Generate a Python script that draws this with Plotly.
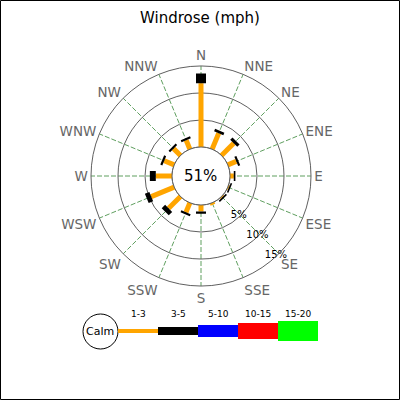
import plotly.graph_objects as go

# compass directions and the share (%) of time per speed bin
directions = ['N', 'NNE', 'NE', 'ENE', 'E', 'ESE', 'SE', 'SSE',
              'S', 'SSW', 'SW', 'WSW', 'W', 'WNW', 'NW', 'NNW']
angles = [i * 22.5 for i in range(16)]

pct_1_3 = [11.8, 3.2, 3.2, 1.7, 0.7, 0.2, 0.2, 0.4,
           1.2, 1.9, 3.1, 4.6, 3.0, 2.0, 1.8, 1.8]
pct_3_5 = [1.8, 0.5, 0.6, 0.4, 0.3, 0.3, 0.3, 0.0,
           0.4, 0.4, 0.9, 0.9, 1.1, 0.4, 0.4, 0.4]

calm_pct = 51

speed_bins = ['1-3', '3-5', '5-10', '10-15', '15-20']
bin_colors = ['#ffa500', '#000000', '#0000ff', '#ff0000', '#00ff00']

radial_ticks = [5, 10, 15]

W = 400.0
fig = go.Figure()


def segments(starts, lengths):
    r, th = [], []
    for a, s, l in zip(angles, starts, lengths):
        if l <= 0:
            continue
        r += [s, s + l, None]
        th += [a, a, None]
    return r, th


# calm circle outline (r=0 sits on the hole edge)
fig.add_trace(go.Scatterpolar(
    r=[0] * 73, theta=[i * 5 for i in range(73)], mode='lines',
    line=dict(color='#555555', width=1), hoverinfo='skip', showlegend=False))

r1, t1 = segments([0] * 16, pct_1_3)
fig.add_trace(go.Scatterpolar(r=r1, theta=t1, mode='lines',
                              line=dict(color=bin_colors[0], width=5),
                              name=speed_bins[0], showlegend=False))
r2, t2 = segments(pct_1_3, pct_3_5)
fig.add_trace(go.Scatterpolar(r=r2, theta=t2, mode='lines',
                              line=dict(color=bin_colors[1], width=10),
                              name=speed_bins[1], showlegend=False))

# ring labels sit right on the rings, a bit past SE
fig.add_trace(go.Scatterpolar(r=[v - 0.2 for v in radial_ticks],
                              theta=[136.5] * len(radial_ticks),
                              mode='text', text=[f'{v}%' for v in radial_ticks],
                              textposition='middle center', cliponaxis=False,
                              textfont=dict(size=10, color='black'),
                              hoverinfo='skip', showlegend=False))

fig.update_layout(
    width=400, height=400,
    margin=dict(l=0, r=0, t=0, b=0),
    paper_bgcolor='white',
    font=dict(family='DejaVu Sans'),
    title=dict(text='Windrose (mph)', x=0.5, xanchor='center',
               y=1 - 18 / W, yanchor='middle', yref='paper',
               font=dict(size=15, color='black')),
    polar=dict(
        domain=dict(x=[91 / W, 311 / W], y=[1 - 286 / W, 1 - 66 / W]),
        hole=29 / 110,
        bgcolor='white',
        radialaxis=dict(range=[0, 15], tickmode='array', tickvals=radial_ticks,
                        showticklabels=False, showline=False, ticks='',
                        gridcolor='#606060', gridwidth=1),
        angularaxis=dict(direction='clockwise', rotation=90,
                         tickmode='array', tickvals=angles, ticktext=directions,
                         ticks='', showline=True, linecolor='#606060',
                         gridcolor='#5f9f5f', griddash='5px,2px', gridwidth=1,
                         tickfont=dict(size=13.5, color='#666666')),
    ),
)

fig.add_annotation(text=f'{calm_pct}%', x=201 / W, y=1 - 176 / W, xref='paper',
                   yref='paper', xanchor='center', yanchor='middle',
                   showarrow=False, font=dict(size=15, color='black'))

# custom legend under the rose
shapes = [dict(type='rect', xref='paper', yref='paper', x0=0.5 / W, y0=0.5 / W,
               x1=1 - 0.5 / W, y1=1 - 0.5 / W, line=dict(color='black', width=1))]
shapes.append(dict(type='circle', xref='paper', yref='paper',
                   x0=83 / W, x1=118 / W, y0=1 - 349 / W, y1=1 - 314 / W,
                   line=dict(color='black', width=1)))
fig.add_annotation(text='Calm', x=100.5 / W, y=1 - 331 / W, xref='paper', yref='paper',
                   xanchor='center', yanchor='middle',
                   showarrow=False, font=dict(size=11, color='black'))
bar_heights = [4, 8, 12, 16, 20]
for i, (lab, col) in enumerate(zip(speed_bins, bin_colors)):
    x0 = 118 + 40 * i
    h = bar_heights[i]
    shapes.append(dict(type='rect', xref='paper', yref='paper',
                       x0=x0 / W, x1=(x0 + 40) / W,
                       y0=1 - (331 + h / 2) / W, y1=1 - (331 - h / 2) / W,
                       fillcolor=col, line=dict(width=0)))
    fig.add_annotation(text=lab, x=(x0 + 20) / W, y=1 - 314 / W, xref='paper',
                       yref='paper', xanchor='center', yanchor='middle',
                       showarrow=False, font=dict(size=9, color='black'))
fig.update_layout(shapes=shapes)

fig.write_html('out.html', config=dict(displayModeBar=False),
               post_script="document.body.style.margin='0';")
